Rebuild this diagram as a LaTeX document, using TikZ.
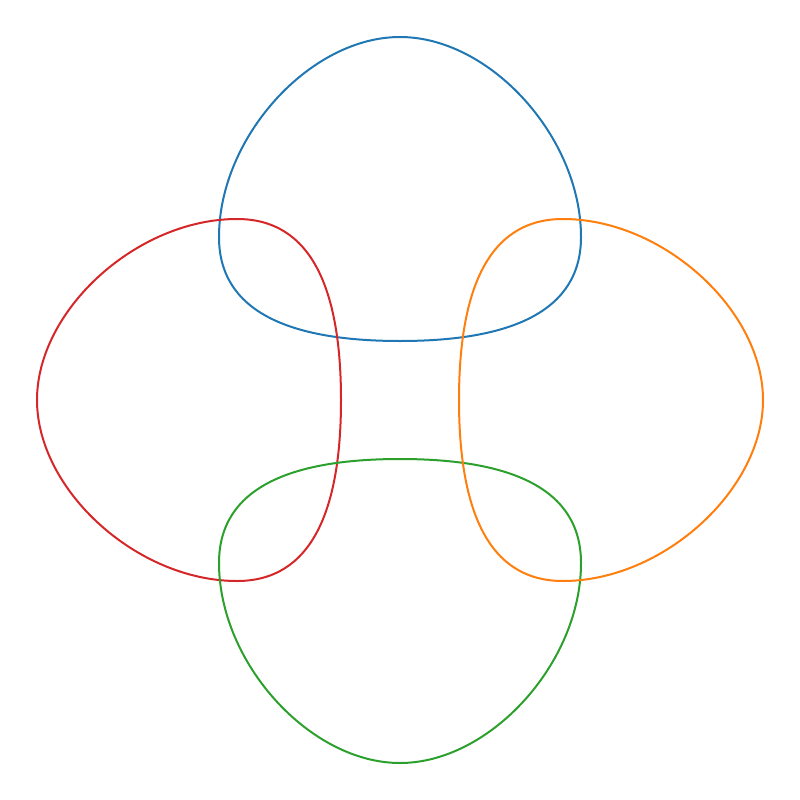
\documentclass[tikz,border=0pt]{standalone}
\definecolor{tabblue}{HTML}{1F77B4}
\definecolor{taborange}{HTML}{FF7F0E}
\definecolor{tabgreen}{HTML}{2CA02C}
\definecolor{tabred}{HTML}{D62728}
\tikzset{loopline/.style={line width=2pt}}
\newcommand{\lobepath}{(0,-59) .. controls (110,-59) and (181,-88) .. (181,-163) .. controls (181,-263) and (90,-363) .. (0,-363) .. controls (-90,-363) and (-181,-263) .. (-181,-163) .. controls (-181,-88) and (-110,-59) .. (0,-59) -- cycle}
\begin{document}
\begin{tikzpicture}[x=1pt,y=-1pt]
\useasboundingbox (0,0) rectangle (800,800);
\begin{scope}[shift={(400,400)}]
\draw[loopline,tabblue] \lobepath;
\draw[loopline,tabred,rotate=90] \lobepath;
\draw[loopline,tabgreen,rotate=180] \lobepath;
\draw[loopline,taborange,rotate=-90] \lobepath;
\end{scope}
\end{tikzpicture}
\end{document}
